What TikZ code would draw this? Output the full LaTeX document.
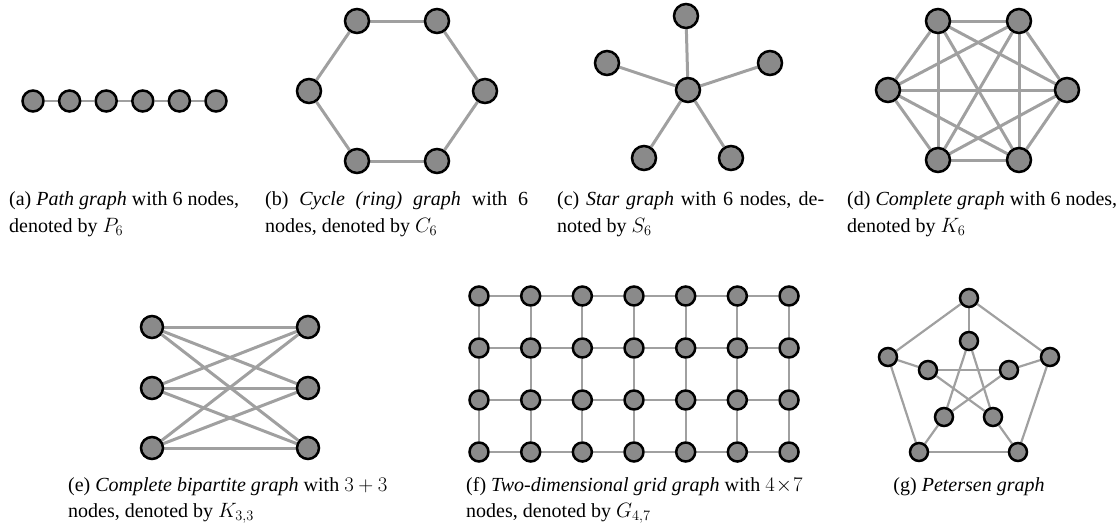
\documentclass[tikz,border=0pt]{standalone}
\usepackage[no-math]{fontspec}
\setmainfont{Liberation Serif}
\usetikzlibrary{backgrounds}
\definecolor{nodegray}{HTML}{8A8A8A}
\definecolor{edgegray}{HTML}{A0A0A0}
\newcommand\capfont{\fontsize{20}{26}\selectfont}
\tikzset{
  vtx/.style={circle, draw=black, fill=nodegray, line width=2.5pt, inner sep=0pt, minimum size=#1},
  vtx/.default=24pt,
  ed/.style={draw=edgegray, line width=3pt},
  edthin/.style={draw=edgegray, line width=2.2pt},
  captxt/.style={inner sep=0pt, font=\capfont, anchor=base west},
}
\begin{document}
\begin{tikzpicture}[x=1pt,y=-1pt]
\useasboundingbox (0,0) rectangle (1118,525);
% (a) path
\foreach \x [count=\i] in {33,69.6,106.2,142.8,179.4,216}
  \node[vtx=21pt] (p\i) at (\x,101) {};
\begin{scope}[on background layer]
  \foreach \i [evaluate=\i as \j using int(\i+1)] in {1,...,5}
    \draw[edthin] (p\i) -- (p\j);
\end{scope}
% (b) cycle
\node[vtx] (c1) at (357,21) {};
\node[vtx] (c2) at (437,21) {};
\node[vtx] (c3) at (485,91) {};
\node[vtx] (c4) at (437,161) {};
\node[vtx] (c5) at (357,161) {};
\node[vtx] (c6) at (309,91) {};
\begin{scope}[on background layer]
  \draw[ed] (c1) -- (c2); \draw[ed] (c2) -- (c3); \draw[ed] (c3) -- (c4);
  \draw[ed] (c4) -- (c5); \draw[ed] (c5) -- (c6); \draw[ed] (c6) -- (c1);
\end{scope}
% (c) star
\node[vtx] (s0) at (688,90) {};
\node[vtx] (s1) at (686,16) {};
\node[vtx] (s2) at (770,63) {};
\node[vtx] (s3) at (731,158) {};
\node[vtx] (s4) at (644,158) {};
\node[vtx] (s5) at (607,63) {};
\begin{scope}[on background layer]
  \foreach \i in {1,...,5} \draw[ed] (s0) -- (s\i);
\end{scope}
% (d) complete
\node[vtx] (k1) at (938,21) {};
\node[vtx] (k2) at (1019,21) {};
\node[vtx] (k3) at (1067,90) {};
\node[vtx] (k4) at (1019,160) {};
\node[vtx] (k5) at (938,160) {};
\node[vtx] (k6) at (888,90) {};
\begin{scope}[on background layer]
  \foreach \i in {1,...,5}{
    \pgfmathtruncatemacro\st{\i+1}
    \foreach \j in {\st,...,6} \draw[ed] (k\i) -- (k\j);
  }
\end{scope}
% (e) bipartite
\foreach \y [count=\i] in {327,388,448}{
  \node[vtx=22pt] (bl\i) at (152,\y) {};
  \node[vtx=22pt] (br\i) at (308,\y) {};
}
\begin{scope}[on background layer]
  \foreach \i in {1,2,3} \foreach \j in {1,2,3} \draw[ed] (bl\i) -- (br\j);
\end{scope}
% (f) grid
\foreach \i in {0,...,6} \foreach \j in {0,...,3}
  \node[vtx=19pt] (g\i-\j) at ({479+51.67*\i},{296+52*\j}) {};
\begin{scope}[on background layer]
  \foreach \i in {0,...,6} \foreach \j in {0,1,2}{
    \pgfmathtruncatemacro\nj{\j+1}
    \draw[edthin] (g\i-\j) -- (g\i-\nj);
  }
  \foreach \i in {0,...,5} \foreach \j in {0,...,3}{
    \pgfmathtruncatemacro\ni{\i+1}
    \draw[edthin] (g\i-\j) -- (g\ni-\j);
  }
\end{scope}
% (g) Petersen
\node[vtx=18pt] (o1) at (969,298) {};
\node[vtx=18pt] (o2) at (1050,357) {};
\node[vtx=18pt] (o3) at (1018,452) {};
\node[vtx=18pt] (o4) at (919,452) {};
\node[vtx=18pt] (o5) at (888,357) {};
\node[vtx=18pt] (n1) at (969,341) {};
\node[vtx=18pt] (n2) at (1009,370) {};
\node[vtx=18pt] (n3) at (993,417) {};
\node[vtx=18pt] (n4) at (944,417) {};
\node[vtx=18pt] (n5) at (928,370) {};
\begin{scope}[on background layer]
  \draw[edthin] (o1) -- (o2); \draw[edthin] (o2) -- (o3); \draw[edthin] (o3) -- (o4);
  \draw[edthin] (o4) -- (o5); \draw[edthin] (o5) -- (o1);
  \foreach \i in {1,...,5} \draw[edthin] (o\i) -- (n\i);
  \draw[edthin] (n1) -- (n3); \draw[edthin] (n3) -- (n5); \draw[edthin] (n5) -- (n2);
  \draw[edthin] (n2) -- (n4); \draw[edthin] (n4) -- (n1);
\end{scope}
% captions row 1
\node[captxt] (ca1) at (9,205) {(a) \emph{Path graph} with 6 nodes,};
\node[captxt] (ca2) at (9,232) {denoted by $P_6$};
\node[captxt] (cb1) at (265,205) {\makebox[263pt][s]{(b) \emph{Cycle (ring) graph} with 6}};
\node[captxt] (cb2) at (265,232) {nodes, denoted by $C_6$};
\node[captxt] (cc1) at (557,205) {\makebox[267pt][s]{(c) \emph{Star graph} with 6 nodes, de-}};
\node[captxt] (cc2) at (557,232) {noted by $S_6$};
\node[captxt] (cd1) at (847,205) {(d) \emph{Complete graph} with 6 nodes,};
\node[captxt] (cd2) at (847,232) {denoted by $K_6$};
% captions row 2
\node[captxt] (ce1) at (68,491) {(e) \emph{Complete bipartite graph} with $3+3$};
\node[captxt] (ce2) at (68,517) {nodes, denoted by $K_{3,3}$};
\node[captxt] (cf1) at (466,491) {(f) \emph{Two-dimensional grid graph} with $4\!\times\!7$};
\node[captxt] (cf2) at (466,517) {nodes, denoted by $G_{4,7}$};
\node[captxt, anchor=base] (cg1) at (969,491) {(g) \emph{Petersen graph}};
\end{tikzpicture}
\end{document}
